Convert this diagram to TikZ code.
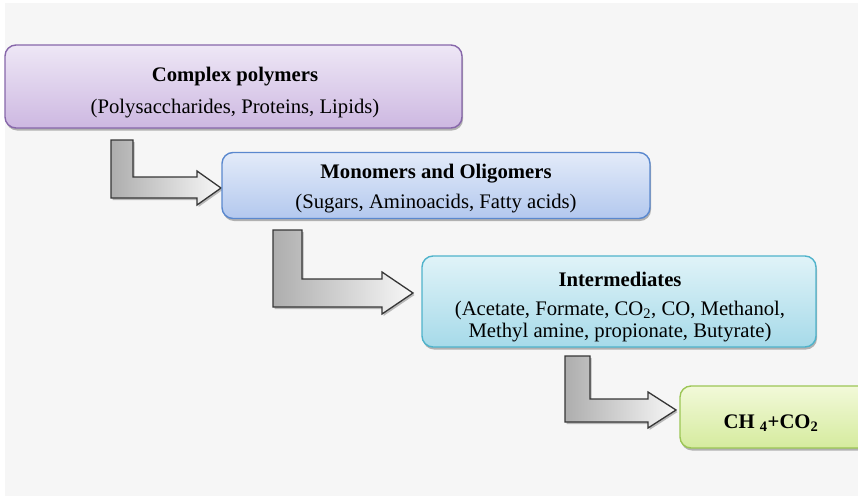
\documentclass[tikz,border=0pt]{standalone}
\usepackage{fontspec}
\setmainfont{Liberation Serif}
\usetikzlibrary{shadows}
\definecolor{bg}{HTML}{F6F6F6}
\definecolor{pline}{HTML}{8767AA}
\definecolor{ptop}{HTML}{EEE7F6}
\definecolor{pbot}{HTML}{CDB8E1}
\definecolor{bline}{HTML}{5A88CE}
\definecolor{btop}{HTML}{E3EBF9}
\definecolor{bbot}{HTML}{B3C8EE}
\definecolor{cline}{HTML}{4FB3CB}
\definecolor{ctop}{HTML}{E0F3F8}
\definecolor{cbot}{HTML}{A6DAE9}
\definecolor{gline}{HTML}{9CC655}
\definecolor{gtop}{HTML}{F2F9D9}
\definecolor{gbot}{HTML}{D5EB9E}
\definecolor{aline}{HTML}{363636}
\tikzset{
  box/.style={draw, rectangle, rounded corners=11pt, line width=1.4pt, inner sep=0pt,
    drop shadow={shadow xshift=1pt, shadow yshift=-2.5pt, opacity=.28, fill=black}},
  fatarrow/.style={draw=aline, line width=1.3pt, line join=miter,
    left color=black!32, right color=black!3,
    drop shadow={shadow xshift=1.5pt, shadow yshift=-2pt, opacity=.25, fill=black}},
  txt/.style={inner sep=0pt, anchor=base, font=\fontsize{20.7}{22}\selectfont},
  ttl/.style={inner sep=0pt, anchor=base, font=\fontsize{20.7}{22}\selectfont\bfseries}
}
\begin{document}
\begin{tikzpicture}[x=1pt,y=-1pt]
\useasboundingbox (0,0) rectangle (858,498);
\clip (0,0) rectangle (858,498);
\fill[white] (0,0) rectangle (858,498);
\fill[bg] (5,3) rectangle (858,496);

% bent arrows
\path[fatarrow] (111,140) -- (133,140) -- (133,177) -- (197,177) -- (197,171) -- (221,188)
  -- (197,205) -- (197,198) -- (111,198) -- cycle;
\path[fatarrow] (273,230) -- (302,230) -- (302,279) -- (382,279) -- (382,272) -- (413,293)
  -- (382,314) -- (382,307) -- (273,307) -- cycle;
\path[fatarrow] (565,356) -- (590,356) -- (590,399) -- (648,399) -- (648,392) -- (676,410)
  -- (648,428) -- (648,422) -- (565,422) -- cycle;

% boxes
\node[box, draw=pline, top color=ptop, bottom color=pbot,
  minimum width=457pt, minimum height=83pt] (b1) at (233.5,86.5) {};
\node[box, draw=bline, top color=btop, bottom color=bbot,
  minimum width=428pt, minimum height=66pt] (b2) at (436,185.5) {};
\node[box, draw=cline, top color=ctop, bottom color=cbot,
  minimum width=394pt, minimum height=91pt] (b3) at (619,301.5) {};
\node[box, draw=gline, top color=gtop, bottom color=gbot,
  minimum width=200pt, minimum height=62pt] (b4) at (780,417) {};

% texts
\node[ttl] (t1a) at (235,81) {Complex polymers};
\node[txt] (t1b) at (235,113) {(Polysaccharides, Proteins, Lipids)};
\node[ttl] (t2a) at (436,178) {Monomers and Oligomers};
\node[txt] (t2b) at (436,208) {(Sugars, Aminoacids, Fatty acids)};
\node[ttl] (t3a) at (620,286) {Intermediates};
\node[txt] (t3b) at (620,315) {(Acetate, Formate, CO\textsubscript{2}, CO, Methanol,};
\node[txt] (t3c) at (620,337) {Methyl amine, propionate, Butyrate)};
\node[ttl] (t4) at (771,428) {CH \textsubscript{4}+CO\textsubscript{2}};
\end{tikzpicture}
\end{document}
